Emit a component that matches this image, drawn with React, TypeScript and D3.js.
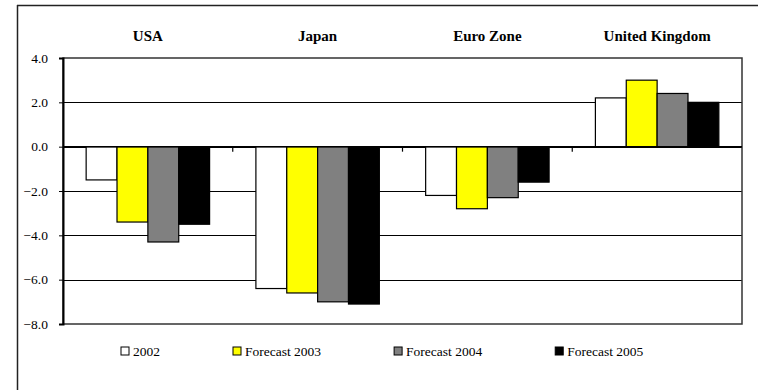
import React, { useEffect, useRef } from 'react';
import * as d3 from 'd3';

const categories = ['USA', 'Japan', 'Euro Zone', 'United Kingdom'];
const seriesNames = ['2002', 'Forecast 2003', 'Forecast 2004', 'Forecast 2005'];
const v2002 = [-1.5, -6.4, -2.2, 2.2];
const v2003 = [-3.4, -6.6, -2.8, 3.0];
const v2004 = [-4.3, -7.0, -2.3, 2.4];
const v2005 = [-3.5, -7.1, -1.6, 2.0];
const yTicks = [4, 2, 0, -2, -4, -6, -8];
const colors = ['#ffffff', '#ffff00', '#808080', '#000000'];

const W = 758;
const H = 390;

function App() {
  const ref = useRef<SVGSVGElement>(null);

  useEffect(() => {
    if (!ref.current) return;
    const svg = d3.select(ref.current);
    svg.selectAll('*').remove();

    const series = [v2002, v2003, v2004, v2005];
    const left = 63, right = 742, top = 58, bottom = 324;

    // chart frame
    svg.append('line').attr('x1', 17).attr('x2', W).attr('y1', 5.5).attr('y2', 5.5)
      .attr('stroke', '#222').attr('stroke-width', 1.5);
    svg.append('line').attr('x1', 17.5).attr('x2', 17.5).attr('y1', 5).attr('y2', H)
      .attr('stroke', '#222').attr('stroke-width', 1.5);

    const x = d3.scaleBand().domain(categories).range([left, right]).paddingInner(0).paddingOuter(0);
    const y = d3.scaleLinear().domain([-8, 4]).range([bottom, top]);
    const barW = x.bandwidth() / 5.5;
    const inner = d3.scaleBand().domain(seriesNames)
      .range([0.75 * barW, 4.75 * barW]).padding(0);

    // gridlines
    svg.append('g').selectAll('line').data(yTicks.filter((t) => t !== 4 && t !== -8)).enter()
      .append('line')
      .attr('x1', left).attr('x2', right)
      .attr('y1', (d) => Math.round(y(d)) + 0.5).attr('y2', (d) => Math.round(y(d)) + 0.5)
      .attr('stroke', '#000').attr('stroke-width', 1);

    // plot border
    svg.append('rect').attr('x', left).attr('y', top).attr('width', right - left).attr('height', bottom - top)
      .attr('fill', 'none').attr('stroke', '#333').attr('stroke-width', 1.5);

    // bars
    series.forEach((vals, si) => {
      svg.append('g').selectAll('rect').data(vals).enter().append('rect')
        .attr('x', (_, i) => (x(categories[i]) as number) + (inner(seriesNames[si]) as number))
        .attr('y', (d) => y(Math.max(0, d)))
        .attr('width', inner.bandwidth())
        .attr('height', (d) => Math.abs(y(d) - y(0)))
        .attr('fill', colors[si])
        .attr('stroke', '#000').attr('stroke-width', 1.2);
    });

    // category ticks on the zero line
    svg.append('g').selectAll('line').data(categories.slice(1)).enter().append('line')
      .attr('x1', (d) => x(d) as number).attr('x2', (d) => x(d) as number)
      .attr('y1', y(0)).attr('y2', y(0) + 5)
      .attr('stroke', '#000').attr('stroke-width', 1.2);

    // y axis
    const yAxis = d3.axisLeft(y).tickValues(yTicks).tickFormat((d) => d3.format('.1f')(d as number))
      .tickSize(4).tickPadding(11);
    const ga = svg.append('g').attr('transform', `translate(${left},0)`).call(yAxis);
    ga.attr('font-family', 'Liberation Serif').attr('font-size', 13.5);
    ga.select('.domain').attr('stroke', '#000').attr('stroke-width', 2);
    ga.selectAll('.tick line').attr('stroke', '#000');
    ga.selectAll('text').attr('fill', '#000');

    // zero line
    svg.append('line').attr('x1', left).attr('x2', right).attr('y1', y(0)).attr('y2', y(0))
      .attr('stroke', '#000').attr('stroke-width', 1.5);

    // category labels
    svg.append('g').attr('font-family', 'Liberation Serif').attr('font-size', 15).attr('font-weight', 'bold')
      .selectAll('text').data(categories).enter().append('text')
      .attr('x', (d) => (x(d) as number) + x.bandwidth() / 2)
      .attr('y', 41)
      .attr('text-anchor', 'middle')
      .text((d) => d);

    // legend: items laid out left to right by their text width
    const lg = svg.append('g').attr('font-family', 'Liberation Serif').attr('font-size', 13.5)
      .selectAll('g').data(seriesNames).enter().append('g');
    lg.append('rect').attr('width', 8).attr('height', 8)
      .attr('fill', (_, i) => colors[i]).attr('stroke', '#000').attr('stroke-width', 1);
    const lt = lg.append('text').attr('x', 12).attr('y', 8.5).text((d) => d);
    let lxPos = 121;
    lg.each(function (_, i) {
      d3.select(this).attr('transform', `translate(${lxPos},347)`);
      const tw = (lt.nodes()[i] as SVGTextElement).getComputedTextLength();
      lxPos += 12 + tw + 73;
    });
  }, []);

  return (
    <svg ref={ref} width={W} height={H}
      style={{ position: 'absolute', left: 0, top: 0, background: '#fff', fontFamily: 'Liberation Serif' }} />
  );
}

export default App;
